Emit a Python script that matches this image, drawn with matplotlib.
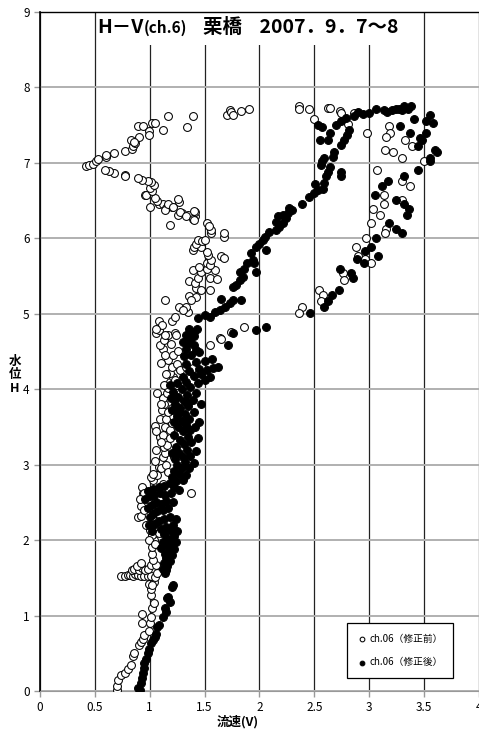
import numpy as np
import matplotlib
matplotlib.use("Agg")
from matplotlib import pyplot as plt
from matplotlib.patches import Rectangle

plt.rcParams['font.family'] = ['Noto Sans CJK JP', 'DejaVu Sans']

title_main = 'H－V'
title_ch = '(ch.6)'
title_rest = '栗橋    2007．9．7～8'
xlabel = '流速(V)'
ylabel = '水\n位\nH'
labels = ['ch.06（修正前）', 'ch.06（修正後）']
xticks = [0, 0.5, 1, 1.5, 2, 2.5, 3, 3.5, 4]
xticklabels = ['0', '0.5', '1', '1.5', '2', '2.5', '3', '3.5', '4']
yticks = list(range(10))

# (V, H): before correction (open circles)
before = np.array([
    # low limb
    (0.70, 0.01), (0.70, 0.07), (0.71, 0.15), (0.74, 0.21), (0.77, 0.24), (0.80, 0.29),
    (0.83, 0.35), (0.85, 0.46), (0.86, 0.51), (0.90, 0.61), (0.92, 0.65), (0.94, 0.69),
    (0.95, 0.74), (0.99, 0.80), (0.93, 0.90), (1.00, 0.90), (1.01, 0.98), (0.93, 1.02),
    (1.02, 1.10), (1.04, 1.17), (1.01, 1.27), (1.01, 1.35), (0.99, 1.42), (1.04, 1.45),
    (1.02, 1.40),
    (0.74, 1.53), (0.77, 1.53), (0.80, 1.54), (0.82, 1.54), (0.85, 1.53), (0.87, 1.55),
    (0.89, 1.54), (0.92, 1.53), (0.95, 1.53), (0.98, 1.53), (1.01, 1.52), (1.05, 1.51),
    (1.07, 1.56), (0.84, 1.60), (0.86, 1.62), (0.90, 1.60), (0.93, 1.63), (0.96, 1.60),
    (0.98, 1.62), (0.88, 1.66), (0.92, 1.70),
    (1.01, 1.67), (1.06, 1.67), (1.03, 1.74), (1.02, 1.82), (1.02, 1.91), (1.04, 2.00),
    (1.02, 2.07), (1.00, 2.13), (1.015, 2.20), (1.04, 2.27), (1.02, 2.31), (0.89, 2.31),
    (0.92, 2.32), (1.06, 2.40), (1.04, 2.49), (0.96, 2.51), (0.94, 2.62), (0.93, 2.71),
    (1.03, 2.80), (1.07, 2.86), (0.95, 2.62), (0.97, 2.51), (1.01, 2.84), (1.03, 2.88),
    (0.92, 2.45), (0.95, 2.40), (0.98, 2.55), (1.00, 2.60), (0.97, 2.20), (0.99, 2.00),
    (1.08, 2.10), (1.05, 1.95), (1.08, 2.55), (1.10, 2.68), (0.91, 2.55),
    # middle band
    (1.08, 2.97), (1.10, 3.04), (1.12, 3.10), (1.14, 3.15), (1.13, 3.24), (1.16, 3.26),
    (1.09, 3.37), (1.12, 3.39), (1.045, 3.51), (1.14, 3.50), (1.18, 3.46), (1.20, 3.55),
    (1.09, 3.61), (1.11, 3.72), (1.13, 3.81), (1.12, 3.88), (1.16, 3.95), (1.17, 4.01),
    (1.18, 4.10), (1.21, 4.16), (1.23, 4.12), (1.18, 4.21), (1.20, 4.30), (1.25, 4.34),
    (1.28, 4.25), (1.33, 4.30), (1.39, 4.28), (1.17, 4.39), (1.21, 4.45), (1.26, 4.51),
    (1.12, 4.54), (1.09, 4.58), (1.13, 4.65), (1.17, 4.72), (1.23, 4.74), (1.06, 4.74),
    (1.08, 4.78), (1.55, 4.59), (1.64, 4.68), (1.38, 2.62),
    (1.10, 2.95), (1.15, 3.00), (1.06, 3.20), (1.10, 3.30), (1.18, 3.35), (1.15, 3.60),
    (1.17, 3.70), (1.10, 3.80), (1.07, 3.95), (1.13, 4.05), (1.22, 3.90), (1.15, 4.20),
    (1.10, 4.35), (1.14, 4.45), (1.19, 4.60), (1.05, 3.05), (1.12, 2.75), (1.05, 2.65),
    (1.17, 2.90), (1.22, 3.10), (1.06, 3.45), (1.20, 3.75), (1.25, 4.05),
    # 4.8 - 6.3
    (1.08, 4.90), (1.11, 4.85), (1.06, 4.80), (1.14, 4.72), (1.24, 4.72), (1.65, 4.67),
    (1.74, 4.76), (1.86, 4.83), (1.20, 4.91), (1.23, 4.96), (1.35, 5.03), (1.27, 5.09),
    (1.33, 5.09), (1.30, 5.05), (1.14, 5.18), (1.36, 5.23), (1.42, 5.22), (1.38, 5.18),
    (1.42, 5.34), (1.47, 5.32), (1.55, 5.32), (1.36, 5.43), (1.41, 5.41), (1.44, 5.47),
    (1.55, 5.47), (1.61, 5.46), (1.39, 5.58), (1.47, 5.55), (1.52, 5.60), (1.59, 5.58),
    (1.45, 5.62), (1.52, 5.67), (1.55, 5.65), (1.56, 5.71), (1.65, 5.76), (1.68, 5.74),
    (1.53, 5.78), (1.52, 5.82), (1.39, 5.85), (1.40, 5.89), (1.47, 5.89), (1.42, 5.93),
    (1.44, 5.98), (1.48, 5.96), (1.50, 5.98), (1.68, 6.02), (1.68, 6.07), (1.56, 6.07),
    (1.56, 6.11), (1.52, 6.20), (1.54, 6.16), (1.18, 6.18), (1.41, 6.29), (1.41, 6.35),
    (1.35, 6.31), (1.29, 6.33), (1.26, 6.31),
    # upper left loop
    (1.00, 6.42), (1.08, 6.46), (1.12, 6.45), (1.15, 6.40), (1.20, 6.42), (1.27, 6.48),
    (1.14, 6.38), (1.17, 6.45), (1.21, 6.41), (1.26, 6.52), (1.28, 6.35), (1.33, 6.30),
    (1.40, 6.36), (1.39, 6.26), (1.40, 6.24), (1.07, 6.49), (1.05, 6.54), (0.96, 6.58),
    (0.97, 6.58), (1.02, 6.63), (1.00, 6.67), (1.04, 6.71), (1.01, 6.75), (0.98, 6.76),
    (0.93, 6.78), (0.89, 6.80), (0.77, 6.84), (0.77, 6.83), (0.67, 6.87), (0.63, 6.89),
    (0.59, 6.90), (0.42, 6.96), (0.45, 6.97), (0.48, 6.99), (0.51, 7.03), (0.53, 7.05),
    (0.60, 7.08), (0.60, 7.10), (0.67, 7.13), (0.77, 7.16), (0.84, 7.19), (0.85, 7.22),
    (0.87, 7.26), (0.83, 7.30), (0.90, 7.34), (0.89, 7.49), (0.94, 7.49), (0.99, 7.42),
    (0.99, 7.37), (1.02, 7.53), (1.05, 7.53), (1.12, 7.44), (1.17, 7.62), (1.34, 7.47),
    (1.39, 7.62), (0.86, 7.28),
    (1.70, 7.63), (1.73, 7.70), (1.74, 7.68), (1.76, 7.64), (1.83, 7.69), (1.90, 7.72),
    # right loop
    (2.36, 7.75), (2.36, 7.72), (2.45, 7.72), (2.62, 7.73), (2.64, 7.73), (2.73, 7.69),
    (2.74, 7.66), (2.86, 7.66), (2.81, 7.52), (2.50, 7.58), (2.98, 7.40), (3.18, 7.49),
    (3.19, 7.39), (3.15, 7.35), (3.33, 7.31), (3.39, 7.22), (3.14, 7.17), (3.22, 7.14),
    (3.30, 7.06), (3.50, 7.02), (3.07, 6.91), (3.30, 6.76), (3.37, 6.70), (3.13, 6.58),
    (3.30, 6.51), (3.13, 6.45), (3.03, 6.39), (3.10, 6.31), (3.02, 6.20), (3.15, 6.13),
    (3.14, 6.07), (2.97, 6.01), (2.88, 5.89), (2.90, 5.77), (2.96, 5.73), (3.02, 5.68),
    (2.76, 5.54), (2.77, 5.45), (2.54, 5.32), (2.58, 5.25), (2.56, 5.17), (2.39, 5.09),
    (2.36, 5.01),
])

# after correction (filled circles)
after = np.array([
    (0.89, 0.04), (0.91, 0.01), (0.92, 0.10), (0.93, 0.17), (0.94, 0.24), (0.95, 0.30),
    (0.95, 0.37), (0.97, 0.43), (0.98, 0.50), (0.99, 0.56), (1.015, 0.63), (1.03, 0.67),
    (1.05, 0.72), (1.06, 0.76), (1.07, 0.85), (1.08, 0.88), (1.12, 0.98), (1.145, 1.05),
    (1.14, 1.10), (1.18, 1.18), (1.16, 1.23), (1.17, 1.25), (1.20, 1.38), (1.21, 1.40),
    (1.14, 1.56), (1.15, 1.60),
    (1.12, 1.62), (1.16, 1.66), (1.13, 1.70), (1.18, 1.72), (1.15, 1.76), (1.20, 1.80),
    (1.14, 1.82), (1.18, 1.86), (1.22, 1.88), (1.16, 1.92), (1.20, 1.95), (1.24, 1.98),
    (1.12, 1.98), (1.10, 1.90),
    (1.17, 2.02), (1.22, 2.05), (1.13, 2.08), (1.19, 2.12), (1.25, 2.12), (1.10, 2.15),
    (1.15, 2.18), (1.21, 2.20), (1.05, 2.22), (1.08, 2.25), (1.13, 2.28), (1.18, 2.30),
    (1.24, 2.28), (1.00, 2.30), (1.03, 2.35), (1.07, 2.38), (1.12, 2.40), (1.17, 2.42),
    (0.98, 2.42), (1.02, 2.46), (1.06, 2.50), (1.10, 2.48), (1.15, 2.52), (1.21, 2.50),
    (0.96, 2.55), (1.00, 2.58), (1.04, 2.60), (1.09, 2.62), (1.14, 2.60), (1.19, 2.62),
    (0.98, 2.65), (1.03, 2.68), (1.08, 2.70), (1.13, 2.72), (1.22, 2.70), (1.27, 2.66),
    (0.99, 2.20), (1.02, 2.12),
    (1.18, 2.76), (1.24, 2.78), (1.30, 2.80), (1.20, 2.84), (1.27, 2.88), (1.33, 2.86),
    (1.22, 2.92), (1.29, 2.95), (1.36, 2.96), (1.25, 3.00), (1.32, 3.03), (1.40, 3.02),
    (1.23, 3.08), (1.30, 3.10), (1.37, 3.12), (1.27, 3.16), (1.34, 3.20), (1.42, 3.18),
    (1.24, 3.24), (1.31, 3.27), (1.38, 3.30), (1.28, 3.33), (1.35, 3.37), (1.44, 3.36),
    (1.22, 3.40), (1.30, 3.44), (1.37, 3.46), (1.26, 3.50), (1.33, 3.52), (1.41, 3.50),
    (1.20, 3.16),
    (1.22, 3.56), (1.29, 3.58), (1.36, 3.60), (1.45, 3.56), (1.25, 3.64), (1.32, 3.67),
    (1.40, 3.70), (1.20, 3.72), (1.28, 3.75), (1.35, 3.78), (1.23, 3.80), (1.31, 3.84),
    (1.39, 3.86), (1.47, 3.80), (1.19, 3.88), (1.26, 3.90), (1.34, 3.93), (1.42, 3.95),
    (1.21, 3.97), (1.29, 4.00), (1.37, 4.03), (1.18, 4.05), (1.25, 4.08), (1.33, 4.10),
    (1.44, 4.08), (1.50, 4.12), (1.30, 4.16), (1.40, 4.18), (1.47, 4.20), (1.55, 4.16),
    (1.35, 3.82), (1.27, 3.70),
    (1.36, 4.24), (1.45, 4.27), (1.52, 4.25), (1.58, 4.28), (1.62, 4.30), (1.33, 4.33),
    (1.42, 4.36), (1.50, 4.38), (1.57, 4.40), (1.31, 4.44), (1.38, 4.46), (1.45, 4.50),
    (1.33, 4.54), (1.40, 4.58), (1.30, 4.62), (1.37, 4.66), (1.33, 4.72), (1.40, 4.76),
    (1.36, 4.80), (1.42, 4.52), (1.36, 4.70), (1.43, 4.80), (1.39, 4.74), (1.36, 4.61),
    # rising limb
    (1.44, 4.94), (1.50, 4.98), (1.55, 4.96), (1.59, 5.03), (1.64, 5.05), (1.65, 5.20),
    (1.69, 5.09), (1.73, 5.14), (1.76, 5.18), (1.83, 5.18), (1.76, 5.36), (1.79, 5.38),
    (1.82, 5.45), (1.85, 5.49), (1.82, 5.56), (1.86, 5.60), (1.89, 5.67), (1.95, 5.67),
    (1.97, 5.56), (1.94, 5.71), (1.92, 5.80), (1.97, 5.89), (2.00, 5.93), (2.03, 5.98),
    (2.05, 6.02), (2.06, 5.85), (2.15, 6.11), (2.18, 6.15), (2.21, 6.20), (2.24, 6.27),
    (2.26, 6.33), (2.27, 6.40), (2.17, 6.29), (2.09, 6.09), (2.15, 6.22), (2.21, 6.31),
    (2.30, 6.38), (2.39, 6.46), (2.45, 6.55), (2.50, 6.60), (2.53, 6.64), (2.51, 6.72),
    (2.58, 6.66), (2.59, 6.73), (2.61, 6.82), (2.62, 6.88), (2.64, 6.95), (2.56, 6.97),
    (2.57, 7.02), (2.59, 7.06), (2.67, 7.08), (2.68, 7.15), (2.74, 7.24), (2.77, 7.30),
    (2.80, 7.37), (2.82, 7.44), (2.70, 7.50), (2.74, 7.55), (2.79, 7.60), (2.53, 7.50),
    (2.57, 7.47), (2.55, 7.30), (2.62, 7.30), (2.64, 7.40), (2.74, 6.88), (2.74, 6.82),
    (2.94, 7.65), (3.00, 7.66), (3.06, 7.71), (3.13, 7.70), (3.16, 7.68), (3.21, 7.70),
    (3.24, 7.72), (3.27, 7.72), (3.32, 7.75), (3.38, 7.75), (3.30, 7.70), (3.35, 7.72),
    (2.86, 7.62), (2.90, 7.68),
    (1.71, 4.59), (1.76, 4.75), (1.97, 4.79), (2.06, 4.83), (1.36, 4.62), (1.40, 4.70),
    # falling right loop
    (3.41, 7.58), (3.55, 7.64), (3.52, 7.55), (3.58, 7.53), (3.28, 7.49), (3.37, 7.40),
    (3.52, 7.40), (3.48, 7.31), (3.46, 7.33), (3.44, 7.22), (3.60, 7.17), (3.62, 7.14),
    (3.55, 7.06), (3.55, 7.02), (3.44, 6.91), (3.32, 6.83), (3.17, 6.76), (3.12, 6.69),
    (3.05, 6.58), (3.24, 6.51), (3.32, 6.45), (3.36, 6.39), (3.34, 6.31), (3.18, 6.20),
    (3.24, 6.13), (3.30, 6.07), (3.06, 6.00), (3.02, 5.89), (2.96, 5.83), (3.08, 5.77),
    (2.89, 5.73), (2.95, 5.68), (2.73, 5.59), (2.83, 5.54), (2.85, 5.47), (2.72, 5.32),
    (2.66, 5.25), (2.62, 5.17), (2.59, 5.09), (2.46, 5.01),
])

fig = plt.figure(figsize=(4.79, 7.29), dpi=100)
ax = fig.add_axes([0.0835, 0.0521, 0.9165, 0.9314])

ax.scatter(before[:, 0], before[:, 1], s=32, facecolors='white', edgecolors='black',
           linewidths=0.75, zorder=3, label=labels[0])
ax.scatter(after[:, 0], after[:, 1], s=32, facecolors='black', edgecolors='black',
           linewidths=0.75, zorder=4, label=labels[1])

ax.set_xlim(0, 4)
ax.set_ylim(0, 9)
ax.set_xticks(xticks)
ax.set_xticklabels(xticklabels)
ax.set_yticks(yticks)
ax.tick_params(axis='both', labelsize=8.5, color='#999999', length=4, width=1)

ax.set_axisbelow(True)
ax.grid(axis='x', color='#222222', linewidth=0.9)
ax.grid(axis='y', color='#b0b0b0', linewidth=1.4)
ax.spines['left'].set_color('black')
ax.spines['left'].set_linewidth(1.2)
ax.spines['top'].set_color('black')
ax.spines['top'].set_linewidth(1.0)
ax.spines['right'].set_visible(False)
ax.spines['bottom'].set_color('#999999')

# white box behind the title, covering the grid
ax.add_patch(Rectangle((0.52, 8.56), 2.96, 0.44, facecolor='white', edgecolor='none',
                       zorder=1.5))
# title in three pieces: the channel part is set smaller
t1 = ax.text(0.52, 8.79, title_main, ha='left', va='center', fontsize=14,
             fontweight='bold', zorder=5)
fig.canvas.draw()
r = fig.canvas.get_renderer()
inv = ax.transData.inverted()
x1 = inv.transform((t1.get_window_extent(r).x1, 0))[0]
t2 = ax.text(x1, 8.79, title_ch, ha='left', va='center', fontsize=11,
             fontweight='bold', zorder=5)
x2 = inv.transform((t2.get_window_extent(r).x1, 0))[0]
ax.text(x2 + 0.15, 8.79, title_rest, ha='left', va='center', fontsize=14,
        fontweight='bold', zorder=5)

fig.text(0.031, 0.486, ylabel, ha='center', va='center', fontsize=9,
         fontweight='bold', linespacing=1.05)
fig.text(0.497, 0.0, xlabel, ha='center', va='bottom', fontsize=9, fontweight='bold')

leg = ax.legend(loc='lower right', bbox_to_anchor=(0.941, 0.019), fontsize=7,
                frameon=True, fancybox=False, edgecolor='black', framealpha=1,
                markerscale=0.6, handletextpad=0.2, labelspacing=1.4,
                borderpad=1.1, borderaxespad=0, handlelength=1.0)
leg.get_frame().set_linewidth(0.9)

plt.savefig('out.png', dpi=100)
